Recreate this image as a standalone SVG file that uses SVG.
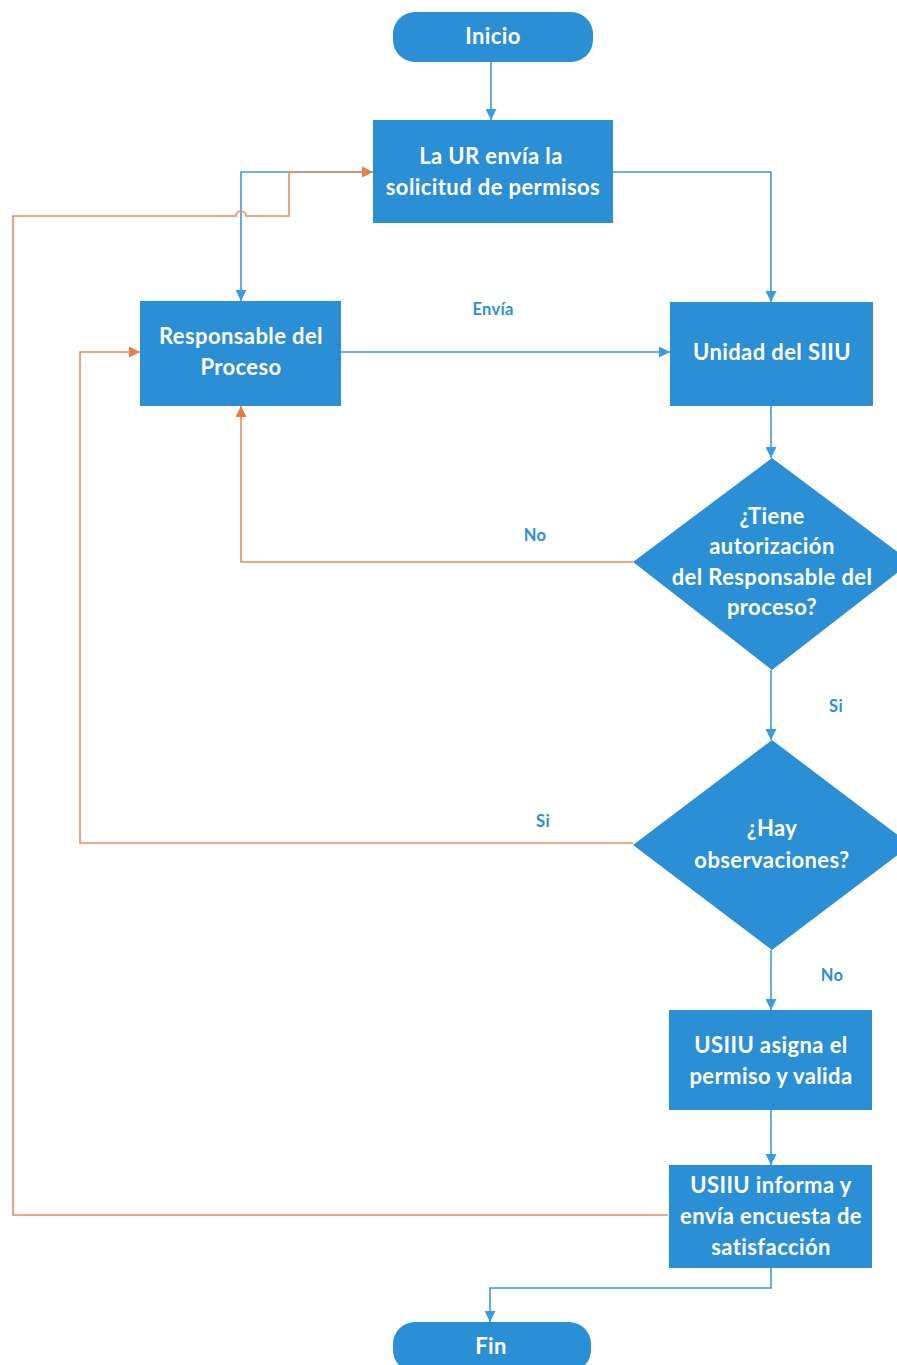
<svg xmlns="http://www.w3.org/2000/svg" width="897" height="1365" viewBox="0 0 897 1365">
<style>
.n{fill:#2b8fd6}
.t{font-family:Lato,"Open Sans",sans-serif;font-weight:bold;font-size:22px;letter-spacing:0.4px;fill:#ffffff;text-anchor:middle}
.l{font-family:Lato,"Open Sans",sans-serif;font-weight:bold;font-size:16.5px;letter-spacing:0.3px;fill:#2b8fd6;text-anchor:middle}
.b{fill:none;stroke:#3a9be0;stroke-width:1.6}
.o{fill:none;stroke:#ee8a5c;stroke-width:1.6}
</style>
<defs>
<marker id="ab" viewBox="0 0 10 10" refX="10" refY="5" markerWidth="11" markerHeight="11" markerUnits="userSpaceOnUse" orient="auto"><path d="M0,0 L10,5 L0,10 z" fill="#3a9be0"/></marker>
<marker id="ao" viewBox="0 0 10 10" refX="10" refY="5" markerWidth="11" markerHeight="11" markerUnits="userSpaceOnUse" orient="auto"><path d="M0,0 L10,5 L0,10 z" fill="#ee7a45"/></marker>
</defs>
<rect width="897" height="1365" fill="#ffffff"/>
<g id="connectors">
<path class="b" d="M491,62 V120" marker-end="url(#ab)"/>
<path class="b" d="M373,172 H241 V301" marker-end="url(#ab)"/>
<path class="b" d="M613,172 H771 V302" marker-end="url(#ab)"/>
<path class="b" d="M341,352 H670" marker-end="url(#ab)"/>
<path class="b" d="M771,406 V458" marker-end="url(#ab)"/>
<path class="b" d="M771,670 V740" marker-end="url(#ab)"/>
<path class="b" d="M771,950 V1010" marker-end="url(#ab)"/>
<path class="b" d="M771,1110 V1165" marker-end="url(#ab)"/>
<path class="b" d="M771,1268 V1288 H490 V1322" marker-end="url(#ab)"/>
<path class="o" d="M668,1215 H13 V216 H236 A5,5 0 0 1 246,216 H289 V172 H373" marker-end="url(#ao)"/>
<path class="o" d="M633,562 H241 V406" marker-end="url(#ao)"/>
<path class="o" d="M633,843 H80 V352 H140" marker-end="url(#ao)"/>
<text class="l" x="493" y="315">Envía</text>
<text class="l" x="535" y="541">No</text>
<text class="l" x="836" y="712">Si</text>
<text class="l" x="543" y="827">Si</text>
<text class="l" x="832" y="981">No</text>
</g>
<g id="inicio">
<rect class="n" x="393" y="12" width="200" height="50" rx="22"/>
<text class="t" x="493" y="44">Inicio</text>
</g>
<g id="ur">
<rect class="n" x="373" y="120" width="240" height="103"/>
<text class="t" x="491" y="164">La UR envía la</text>
<text class="t" x="493" y="195">solicitud de permisos</text>
</g>
<g id="responsable">
<rect class="n" x="140" y="301" width="201" height="105"/>
<text class="t" x="241" y="344">Responsable del</text>
<text class="t" x="241" y="375">Proceso</text>
</g>
<g id="unidad">
<rect class="n" x="670" y="302" width="203" height="104"/>
<text class="t" x="772" y="360">Unidad del SIIU</text>
</g>
<g id="decision1">
<polygon class="n" points="772,458 911,562 772,670 633,562"/>
<text class="t" x="772" y="524">¿Tiene</text>
<text class="t" x="772" y="554">autorización</text>
<text class="t" x="772" y="585">del Responsable del</text>
<text class="t" x="772" y="615">proceso?</text>
</g>
<g id="decision2">
<polygon class="n" points="772,740 911,845 772,950 633,845"/>
<text class="t" x="772" y="836">¿Hay</text>
<text class="t" x="772" y="868">observaciones?</text>
</g>
<g id="asigna">
<rect class="n" x="669" y="1010" width="203" height="100"/>
<text class="t" x="771" y="1053">USIIU asigna el</text>
<text class="t" x="771" y="1084">permiso y valida</text>
</g>
<g id="informa">
<rect class="n" x="669" y="1165" width="203" height="103"/>
<text class="t" x="771" y="1193">USIIU informa y</text>
<text class="t" x="771" y="1224">envía encuesta de</text>
<text class="t" x="771" y="1255">satisfacción</text>
</g>
<g id="fin">
<rect class="n" x="393" y="1322" width="198" height="50" rx="22"/>
<text class="t" x="491" y="1354">Fin</text>
</g>
</svg>
